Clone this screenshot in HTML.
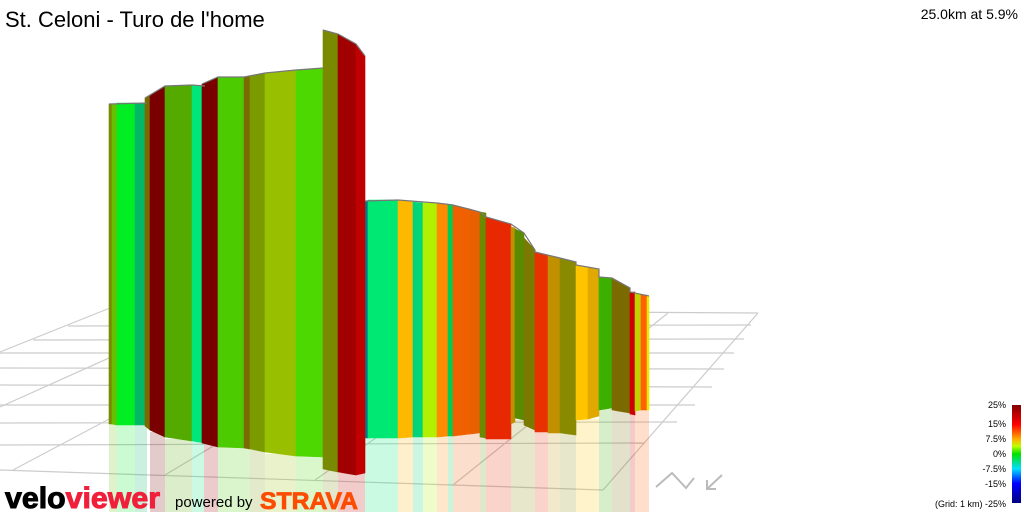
<!DOCTYPE html>
<html><head><meta charset="utf-8"><style>
html,body{margin:0;padding:0;background:#fff;}
svg{display:block;}
text{font-family:"Liberation Sans",sans-serif;}
</style></head><body>
<svg width="1024" height="512" viewBox="0 0 1024 512" xmlns="http://www.w3.org/2000/svg">
<defs>
<linearGradient id="lg" x1="0" y1="0" x2="0" y2="1">
<stop offset="0" stop-color="#800000"/>
<stop offset="0.2" stop-color="#ff0000"/>
<stop offset="0.35" stop-color="#ffb000"/>
<stop offset="0.42" stop-color="#c0ff00"/>
<stop offset="0.5" stop-color="#00e000"/>
<stop offset="0.65" stop-color="#00e0ff"/>
<stop offset="0.8" stop-color="#0000ff"/>
<stop offset="1" stop-color="#000080"/>
</linearGradient>
</defs>
<g stroke="#cccccc" stroke-width="1.2" fill="none">
<line x1="110" y1="309" x2="758" y2="313"/>
<line x1="68" y1="326" x2="751" y2="325"/>
<line x1="33" y1="340" x2="744" y2="339"/>
<line x1="0" y1="353" x2="734" y2="353"/>
<line x1="0" y1="368" x2="724" y2="369"/>
<line x1="0" y1="385" x2="712" y2="387"/>
<line x1="0" y1="405" x2="695" y2="405"/>
<line x1="0" y1="423" x2="677" y2="422"/>
<line x1="0" y1="445" x2="645" y2="443"/>
<line x1="0" y1="470" x2="603" y2="490"/>
<line x1="0" y1="352" x2="110" y2="308"/>
<line x1="0" y1="407" x2="209" y2="313"/>
<line x1="13" y1="470" x2="309" y2="313"/>
<line x1="165" y1="475" x2="435" y2="313"/>
<line x1="315" y1="480" x2="557" y2="313"/>
<line x1="453" y1="485" x2="668" y2="313"/>
<line x1="603" y1="490" x2="758" y2="313"/>
</g>
<g id="refl" opacity="0.2">
<rect x="109" y="424" width="38" height="88" fill="#66c000"/>
<rect x="117" y="425" width="18" height="87" fill="#00ee22"/>
<rect x="135" y="425" width="12" height="87" fill="#00b868"/>
<rect x="150" y="432" width="15" height="80" fill="#7a0000"/>
<rect x="165" y="439" width="27" height="73" fill="#55aa00"/>
<rect x="192" y="442" width="12" height="70" fill="#00e67a"/>
<rect x="204" y="445" width="14" height="67" fill="#a00000"/>
<rect x="218" y="447" width="32" height="65" fill="#4ccc00"/>
<rect x="250" y="450" width="15" height="62" fill="#7a9a00"/>
<rect x="265" y="454" width="31" height="58" fill="#99c000"/>
<rect x="296" y="456" width="27" height="56" fill="#4cd800"/>
<rect x="323" y="470" width="15" height="42" fill="#7a8a00"/>
<rect x="338" y="473" width="27" height="39" fill="#c00000"/>
<rect x="365" y="438" width="33" height="74" fill="#00e874"/>
<rect x="398" y="437" width="15" height="75" fill="#ffb800"/>
<rect x="413" y="437" width="10" height="75" fill="#00d47a"/>
<rect x="423" y="437" width="14" height="75" fill="#b0f000"/>
<rect x="437" y="436" width="11" height="76" fill="#ff8c00"/>
<rect x="448" y="436" width="5" height="76" fill="#00cc55"/>
<rect x="453" y="434" width="27" height="78" fill="#f06000"/>
<rect x="480" y="437" width="6" height="75" fill="#6a8a00"/>
<rect x="486" y="439" width="25" height="73" fill="#e82800"/>
<rect x="511" y="420" width="24" height="92" fill="#8a8a00"/>
<rect x="535" y="432" width="13" height="80" fill="#e83000"/>
<rect x="548" y="433" width="12" height="79" fill="#c09000"/>
<rect x="560" y="434" width="16" height="78" fill="#8a8a00"/>
<rect x="576" y="419" width="23" height="93" fill="#ffc400"/>
<rect x="599" y="409" width="13" height="103" fill="#3cb000"/>
<rect x="612" y="411" width="18" height="101" fill="#7a6a00"/>
<rect x="630" y="414" width="5" height="98" fill="#cc0000"/>
<rect x="635" y="410" width="14" height="102" fill="#ff6000"/>
</g>
<g stroke-width="0.6">
<polygon points="109,104 112,104 112,424 109,424" fill="#7a8a00" stroke="#7a8a00"/>
<polygon points="112,104 117,104 117,425 112,424" fill="#66c000" stroke="#66c000"/>
<polygon points="117,103 135,103 135,425 117,425" fill="#00ee22" stroke="#00ee22"/>
<polygon points="135,103 147,104 147,425 135,425" fill="#00b868" stroke="#00b868"/>
<polygon points="145,98 150,96 150,430 145,426" fill="#7a6a00" stroke="#7a6a00"/>
<polygon points="150,96 165,86 165,437 150,430" fill="#7a0000" stroke="#7a0000"/>
<polygon points="165,86 192,85 192,441 165,437" fill="#55aa00" stroke="#55aa00"/>
<polygon points="192,85 205,86 205,443 192,441" fill="#00e67a" stroke="#00e67a"/>
<polygon points="202,84 218,77 218,447 202,443" fill="#7a0000" stroke="#7a0000"/>
<polygon points="218,77 244,77 244,448 218,447" fill="#4ccc00" stroke="#4ccc00"/>
<polygon points="244,77 250,76 250,449 244,448" fill="#7a6a00" stroke="#7a6a00"/>
<polygon points="250,76 265,73 265,452 250,449" fill="#7a9a00" stroke="#7a9a00"/>
<polygon points="265,73 296,70 296,456 265,452" fill="#99c000" stroke="#99c000"/>
<polygon points="296,70 323,68 323,457 296,456" fill="#4cd800" stroke="#4cd800"/>
<polygon points="365,201 368,201 368,438 365,438" fill="#007a8a" stroke="#007a8a"/>
<polygon points="368,200 398,200 398,438 368,438" fill="#00e874" stroke="#00e874"/>
<polygon points="398,200 413,202 413,437 398,438" fill="#ffb800" stroke="#ffb800"/>
<polygon points="413,202 423,203 423,437 413,437" fill="#00d47a" stroke="#00d47a"/>
<polygon points="423,203 437,203 437,437 423,437" fill="#b0f000" stroke="#b0f000"/>
<polygon points="437,203 448,204 448,436 437,437" fill="#ff8c00" stroke="#ff8c00"/>
<polygon points="448,204 453,205 453,436 448,436" fill="#00cc55" stroke="#00cc55"/>
<polygon points="453,205 470,209 470,434 453,436" fill="#f06000" stroke="#f06000"/>
<polygon points="470,209 480,212 480,433 470,434" fill="#e86000" stroke="#e86000"/>
<polygon points="480,212 486,213 486,438 480,437" fill="#6a8a00" stroke="#6a8a00"/>
<polygon points="486,217 511,224 511,439 486,439" fill="#e82800" stroke="#e82800"/>
<polygon points="511,227 515,228 515,422 511,424" fill="#c09000" stroke="#c09000"/>
<polygon points="515,229 524,233 524,420 515,418" fill="#5a8a00" stroke="#5a8a00"/>
<polygon points="524,238 535,250 535,430 524,425" fill="#7a7a00" stroke="#7a7a00"/>
<polygon points="535,252 548,255 548,432 535,432" fill="#e83000" stroke="#e83000"/>
<polygon points="548,256 560,258 560,433 548,433" fill="#c09000" stroke="#c09000"/>
<polygon points="560,258 576,262 576,435 560,433" fill="#8a8a00" stroke="#8a8a00"/>
<polygon points="576,265 588,267 588,419 576,420" fill="#ffc400" stroke="#ffc400"/>
<polygon points="588,267 599,269 599,416 588,419" fill="#e0a800" stroke="#e0a800"/>
<polygon points="599,277 612,278 612,408 599,410" fill="#3cb000" stroke="#3cb000"/>
<polygon points="612,279 630,288 630,413 612,410" fill="#7a6a00" stroke="#7a6a00"/>
<polygon points="630,292 635,292 635,415 630,414" fill="#cc0000" stroke="#cc0000"/>
<polygon points="635,293 641,294 641,410 635,411" fill="#c0d000" stroke="#c0d000"/>
<polygon points="641,295 647,295 647,410 641,410" fill="#ff6000" stroke="#ff6000"/>
<polygon points="647,296 649,296 649,410 647,410" fill="#e8e800" stroke="#e8e800"/>
<polygon points="323,30 338,34 338,472 323,469" fill="#7a8a00" stroke="#7a8a00"/>
<polygon points="338,34 356,44 356,475 338,472" fill="#a00000" stroke="#a00000"/>
<polygon points="356,44 365,56 365,473 356,475" fill="#c00000" stroke="#c00000"/>
</g>
<g fill="none" stroke="#777" stroke-width="1.2">
<polyline points="109,104 147,103"/>
<polyline points="145,98 165,86 192,85 205,86"/>
<polyline points="202,84 218,77 244,77 265,73 296,70 323,68"/>
<polyline points="323,30 338,34 356,44 365,56"/>
<polyline points="365,201 398,200 437,203 453,205 480,212 486,217 511,224 524,233 535,250 535,252 560,258 576,262 576,265 599,269 599,277 612,278 630,288 630,292 649,296"/>
</g>
<text x="5" y="27" font-size="22" fill="#000">St. Celoni - Turo de l'home</text>
<text x="1018" y="19" font-size="14" fill="#000" text-anchor="end">25.0km at 5.9%</text>
<rect x="1012" y="405" width="9" height="98" fill="url(#lg)"/>
<g font-size="9" fill="#000" text-anchor="end">
<text x="1006" y="408">25%</text>
<text x="1006" y="427">15%</text>
<text x="1006" y="442">7.5%</text>
<text x="1006" y="457">0%</text>
<text x="1006" y="472">-7.5%</text>
<text x="1006" y="487">-15%</text>
<text x="1006" y="507">(Grid: 1 km) -25%</text>
</g>
<text x="5" y="508" font-size="30" font-weight="bold" textLength="155" lengthAdjust="spacingAndGlyphs" fill="#000" stroke="#000" stroke-width="1">velo<tspan fill="#f0203a" stroke="#f0203a">viewer</tspan></text>
<text x="175" y="507" font-size="15" fill="#000">powered by</text>
<text x="260" y="509" font-size="24" font-weight="bold" fill="#fc4c02" stroke="#fc4c02" stroke-width="0.8" textLength="98" lengthAdjust="spacingAndGlyphs">STRAVA</text>
<g fill="none" stroke="#bbb" stroke-width="2">
<polyline points="656,487 672,473 686,488 694,478"/>
<polyline points="722,475 707,489"/>
<polyline points="707,480 707,489 716,489"/>
</g>
</svg>
</body></html>
